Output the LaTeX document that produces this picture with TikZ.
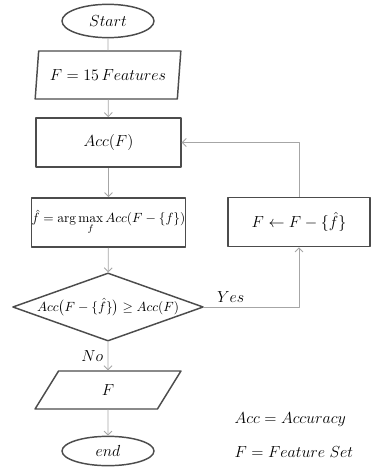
\documentclass[tikz,border=0pt]{standalone}
\usepackage{amsmath}
\usetikzlibrary{shapes.geometric,arrows.meta}
\begin{document}
\begin{tikzpicture}[x=.75pt, y=-.75pt, font=\fontsize{12}{14}\selectfont, line join=round, >={Straight Barb[length=3pt,width=6pt]},
	term/.style={draw=black!70, line width=1.1pt, ellipse, minimum width=69pt, minimum height=25pt, inner sep=0pt},
	io/.style={draw=black!70, line width=1.1pt, trapezium, trapezium left angle=75, trapezium right angle=105, trapezium stretches=true, minimum width=109.5pt, inner sep=0pt},
	proc/.style={draw=black!70, line width=1.1pt, rectangle, minimum width=108.75pt, minimum height=37pt, inner sep=0pt},
	cond/.style={draw=black!70, line width=1.1pt, diamond, aspect=2.8, minimum width=136.5pt, minimum height=48pt, inner sep=0pt},
	flow/.style={draw=black!35, line width=.6pt}]
	\useasboundingbox (0,0) rectangle (372,474);
	\node[term] (start) at (108,21) {$Start$};
	\node[io, minimum height=36pt] (input) at (108,75) {$F = 15\,Features$};
	\node[proc] (acc) at (108.5,142.5) {$Acc(F)$};
	\node[proc, font=\fontsize{10.3}{12}\selectfont] (best) at (108.5,222.5) {$\displaystyle\hat{f} = \arg\max\limits_f Acc(F-\{f\})$};
	\node[cond, font=\fontsize{10}{12}\selectfont] (check) at (108,307) {$Acc\bigl(F-\{\hat{f}\}\bigr) \geq Acc(F)$};
	\node[io, minimum height=28.5pt] (output) at (108,390) {$F$};
	\node[term, minimum height=22pt] (stop) at (108,451) {$end$};
	\node[proc, minimum width=106.5pt] (update) at (299,222) {$F \leftarrow F - \{\hat{f}\}$};
	\node[anchor=west] (legacc) at (230,420) {$Acc = Accuracy$};
	\node[anchor=west] (legf) at (230,452) {$F = Feature\;Set$};
	% connectors
	\draw[flow] (start) -- (input);
	\draw[flow,->] (input) -- (acc);
	\draw[flow,->] (acc) -- (best);
	\draw[flow,->] (best) -- (check);
	\draw[flow,->] (check) -- node[left, pos=.5]{$No$} (output);
	\draw[flow,->] (output) -- (stop);
	\draw[flow,->] (check.east) -| node[above, pos=.14]{$Yes$} (update.south);
	\draw[flow,->] (update.north) |- (acc.east);
\end{tikzpicture}
\end{document}
